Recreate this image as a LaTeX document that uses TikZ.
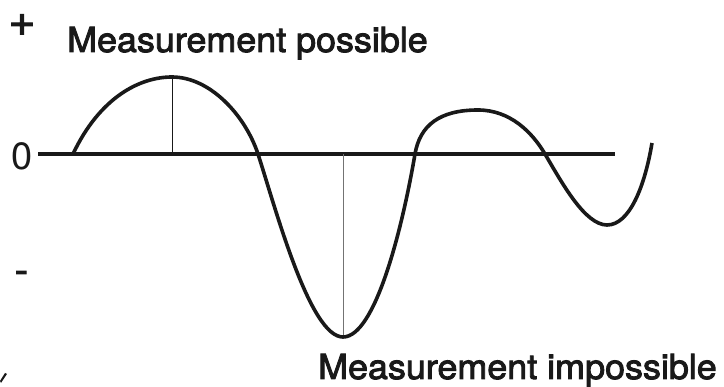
\documentclass[tikz,border=0pt]{standalone}
\usepackage{fontspec}
\setmainfont{TeX Gyre Heros}
\newfontfamily\medfont[FakeBold=2.6,FakeStretch=1.04]{TeX Gyre Heros}
\begin{document}
\begin{tikzpicture}[x=1pt,y=-1pt,
  lab/.style={inner sep=0pt, font=\medfont\fontsize{34.5}{40}\selectfont, text=black!90},
  sym/.style={inner sep=0pt, font=\fontsize{38}{44}\selectfont, text=black!90},
  bigsym/.style={inner sep=0pt, font=\medfont\fontsize{44}{50}\selectfont, text=black!90},
  midsym/.style={inner sep=0pt, font=\medfont\fontsize{38}{44}\selectfont, text=black!90},
  wave/.style={line width=3.6pt, black!90},
  axisline/.style={line width=4.6pt, black!90},
  marker/.style={line width=1pt}]
\useasboundingbox (0,0) rectangle (724,387);
% labels
\node[bigsym] (plus) at (22,25) {+};
\node[sym, anchor=base] (zero) at (22.5,170) {0};
\node[midsym] (minus) at (21.5,277) {-};
\node[lab, anchor=base west] (poss) at (67,52) {Measurement possible};
\node[lab, anchor=base west] (imposs) at (318,379) {Measurement impossible};
% axis
\coordinate (a0) at (38,154);
\coordinate (a1) at (615,154);
\draw[axisline] (a0) -- (a1);
% markers
\coordinate (p1) at (172,77);
\coordinate (p1b) at (172,154);
\coordinate (t1) at (343,336);
\coordinate (t1b) at (343,154);
\draw[marker, black!90] (p1) -- (p1b);
\draw[marker, black!55] (t1b) -- (t1);
% curve
\draw[wave, line join=round]
  (73,154) .. controls (100,97) and (140,77) .. (172,77)
  .. controls (210,77) and (245,115) .. (258,154)
  .. controls (276,210) and (310,337) .. (343,337)
  .. controls (375,337) and (402,230) .. (415,154)
  .. controls (420,125) and (440,110) .. (478,110)
  .. controls (510,110) and (532,132) .. (545,154)
  .. controls (562,183) and (585,225) .. (607,225)
  .. controls (630,225) and (645,185) .. (652,143);
% corner fragment
\fill[black!90] (0,381) -- (5,373) -- (7,374) -- (1,383) -- cycle;
\end{tikzpicture}
\end{document}
